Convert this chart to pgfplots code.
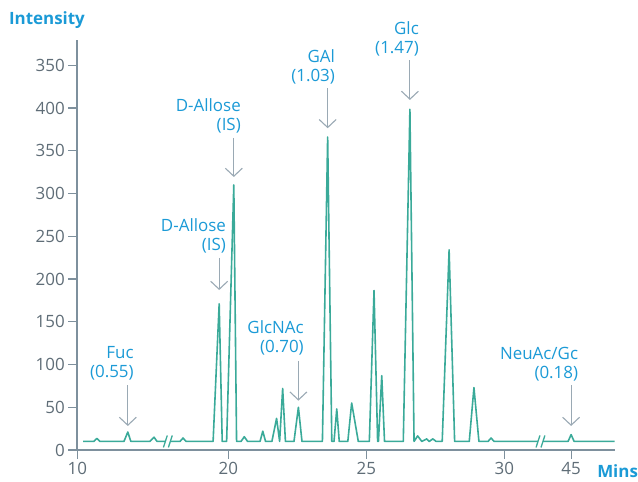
\documentclass[border=0pt]{standalone}
\usepackage{pgfplots}
\pgfplotsset{compat=1.18}
\usepackage{fontspec}
\setmainfont{Open Sans}
\usetikzlibrary{arrows.meta}

\definecolor{trace}{HTML}{3AAA99}
\definecolor{labelblue}{HTML}{1B9AD6}
\definecolor{axisgray}{HTML}{7E909D}
\definecolor{tickgray}{HTML}{5F6D77}
\definecolor{arrowgray}{HTML}{9AA9B4}

% chromatogram trace, split at the two axis breaks
\pgfplotstableread{
x y
14.74 10
15.13 10
15.24 13.5
15.35 10
16.22 10
16.36 21
16.47 10
17.16 10
17.31 15
17.42 10
17.72 10
}\segA
\pgfplotstableread{
x y
17.90 10
18.25 10
18.36 14
18.47 10
19.45 10
19.67 171
19.78 10
19.94 10
20.20 310
20.30 10
20.46 10
20.58 15.5
20.70 10
21.15 10
21.25 22
21.35 10
21.58 10
21.75 37
21.86 10
21.97 72
22.07 10
22.38 10
22.54 50
22.67 10
23.41 10
23.60 366
23.75 10
23.83 10
23.93 48
24.02 10
24.33 10
24.47 55
24.71 10
25.11 10
25.28 186.5
25.41 10
25.44 10
25.56 87
25.66 10
26.34 10
26.58 398.5
26.73 10
26.86 16.5
27.01 10
27.19 13
27.28 10
27.41 13
27.53 10
27.75 10
28.00 234
28.20 10
28.73 10
28.90 73
29.08 10
29.41 10
29.52 14
29.63 10
31.22 10
}\segB
\pgfplotstableread{
x y
31.40 10
32.31 10
32.42 18
32.53 10
34.00 10
}\segC

\newcommand{\lbl}{\fontsize{17}{19}\selectfont}

\begin{document}
\begin{tikzpicture}
\useasboundingbox (0,0) rectangle (638bp,482bp);
\begin{axis}[
  at={(77.3bp,32bp)}, anchor=south west,
  scale only axis, width=537.7bp, height=410bp,
  xmin=14.53, xmax=34.01, ymin=0, ymax=479.5,
  clip=false,
  axis lines=left,
  axis line style={-, axisgray, line width=2bp},
  tick align=outside,
  major tick length=9bp,
  tick style={axisgray, line width=1.2bp},
  xtick={14.53,20,25,30,32.42},
  xticklabels={10,20,25,30,45},
  ytick={0,50,100,150,200,250,300,350,400,450},
  yticklabels={0,50,100,150,200,250,300,350,400,350},
  ticklabel style={font=\lbl, text=tickgray},
  /pgf/number format/assume math mode=true,
]
\addplot[trace, line width=1.6bp, line join=round] table {\segA};
\addplot[trace, line width=1.6bp, line join=round] table {\segB};
\addplot[trace, line width=1.6bp, line join=round] table {\segC};

% break marks on the baseline
\draw[trace, line width=1.3bp] (axis cs:17.65,3) -- (axis cs:17.79,17);
\draw[trace, line width=1.3bp] (axis cs:17.83,3) -- (axis cs:17.97,17);
\draw[trace, line width=1.3bp] (axis cs:31.15,3) -- (axis cs:31.29,17);
\draw[trace, line width=1.3bp] (axis cs:31.33,3) -- (axis cs:31.47,17);

% peak annotations
\tikzset{pk/.style={arrowgray, line width=1.1bp, -{Straight Barb[length=8bp,width=17bp,line width=1.1bp]}},
         pl/.style={anchor=south east, align=right, inner sep=0pt, font=\lbl, text=labelblue}}
\draw[pk] (axis cs:16.36,76) -- (axis cs:16.36,28.1);
\node[pl] at (axis cs:16.58,81.9) {Fuc\\(0.55)};
\draw[pk] (axis cs:19.67,224.6) -- (axis cs:19.67,187.1);
\node[pl] at (axis cs:19.92,230.4) {D-Allose\\(IS)};
\draw[pk] (axis cs:20.20,364.9) -- (axis cs:20.20,319.3);
\node[pl] at (axis cs:20.46,370.8) {D-Allose\\(IS)};
\draw[pk] (axis cs:22.54,104.1) -- (axis cs:22.54,57.7);
\node[pl] at (axis cs:22.74,111.1) {GlcNAc\\(0.70)};
\draw[pk] (axis cs:23.60,423.4) -- (axis cs:23.60,376.3);
\node[pl] at (axis cs:23.87,428.1) {GAl\\(1.03)};
\draw[pk] (axis cs:26.58,456.1) -- (axis cs:26.58,409.4);
\node[pl] at (axis cs:26.91,460.8) {Glc\\(1.47)};
\draw[pk] (axis cs:32.42,76) -- (axis cs:32.42,28.1);
\node[pl] at (axis cs:32.68,80.7) {NeuAc/Gc\\(0.18)};

% axis titles
\node[anchor=base west, inner sep=0pt, font=\lbl\bfseries, text=labelblue] at (axis cs:12.05,498.2) {Intensity};
\node[anchor=base west, inner sep=0pt, font=\lbl\bfseries, text=labelblue] at (axis cs:33.36,-31.8) {Mins};
\end{axis}
\end{tikzpicture}
\end{document}
